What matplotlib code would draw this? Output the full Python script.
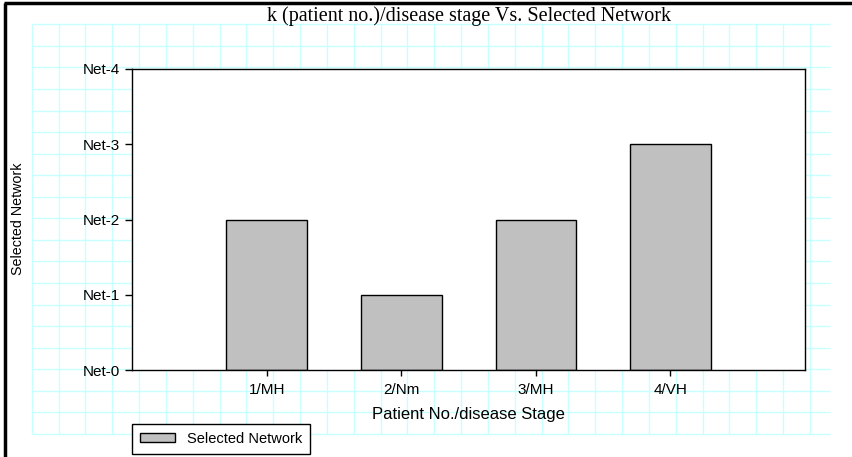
import numpy as np
import matplotlib.pyplot as plt

# data
categories = ['1/MH', '2/Nm', '3/MH', '4/VH']
selected_net = [2, 1, 2, 3]
net_labels = ['Net-0', 'Net-1', 'Net-2', 'Net-3', 'Net-4']

W, H = 853, 457
fig = plt.figure(figsize=(W / 100, H / 100), dpi=100)
fig.patch.set_facecolor('white')

# graph-paper background + frame (pixel coordinates)
bg = fig.add_axes([0, 0, 1, 1], zorder=0)
bg.set_xlim(0, W)
bg.set_ylim(H, 0)
bg.axis('off')
grid_c = '#c8ffff'
gx = np.linspace(31.7, 810, 30)
gy = np.linspace(24.3, 434, 20)
bg.vlines(gx, 24.3, 434, color=grid_c, lw=1)
bg.hlines(gy, 31.7, 830, color=grid_c, lw=1)
bg.plot([5, 5], [2.8, H], color='black', lw=2.5, solid_capstyle='butt')
bg.plot([3.8, W], [2.8, 2.8], color='black', lw=2.5, solid_capstyle='butt')

# main axes
x0, x1, y0, y1 = 132.3, 805, 68.7, 370.3
ax = fig.add_axes([x0 / W, 1 - y1 / H, (x1 - x0) / W, (y1 - y0) / H], zorder=1)
ax.set_facecolor('white')
pos = np.arange(1, len(categories) + 1)
ax.bar(pos, selected_net, width=0.6, color='#c0c0c0', edgecolor='black',
       linewidth=1, label='Selected Network')
ax.set_xlim(0, 5)
ax.set_ylim(0, 4)
ax.set_xticks(pos)
ax.set_xticklabels(categories, family='Liberation Sans', fontsize=11)
ax.set_yticks(range(len(net_labels)))
ax.set_yticklabels(net_labels, family='Liberation Sans', fontsize=11)
ax.tick_params(axis='y', length=5, width=1, pad=4)
ax.tick_params(axis='x', length=4, width=1, pad=5)
for s in ax.spines.values():
    s.set_linewidth(1)
    s.set_color('black')

ax.set_xlabel('Patient No./disease Stage', family='Liberation Sans', fontsize=12, labelpad=7)
fig.text(18 / W, 1 - 219 / H, 'Selected Network', family='Liberation Sans', fontsize=10.3,
         rotation=90, ha='center', va='center')
fig.text((x0 + x1) / 2 / W, 1 - 16 / H, 'k (patient no.)/disease stage Vs. Selected Network',
         family='Liberation Serif', fontsize=14.5, ha='center', va='center')

leg = fig.legend(loc='lower left', bbox_to_anchor=(132.3 / W, 1 - 454 / H),
                 fancybox=False, framealpha=1, edgecolor='black',
                 prop={'family': 'Liberation Sans', 'size': 10.5},
                 handlelength=2.4, handleheight=0.6, handletextpad=0.8,
                 borderpad=0.55, borderaxespad=0)
leg.get_frame().set_linewidth(1)

fig.savefig('out.png', dpi=100)
